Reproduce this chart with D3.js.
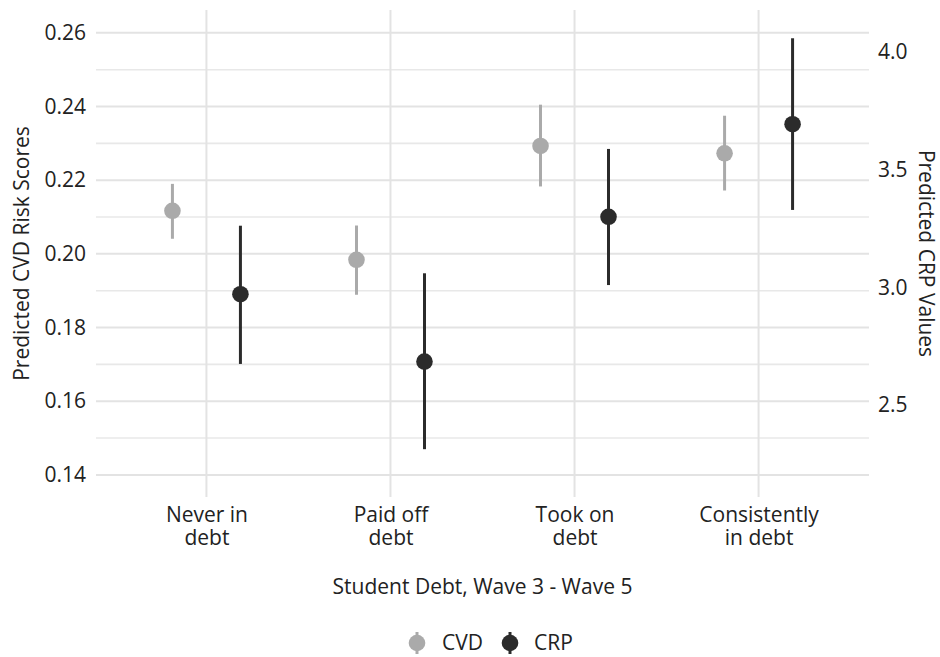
<!DOCTYPE html>
<html>
<head>
<meta charset="utf-8">
<script src="https://cdn.jsdelivr.net/npm/d3@7"></script>
<style>
  html, body { margin: 0; padding: 0; background: #fff; }
  svg { display: block; }
  text { font-family: "Open Sans", "Noto Sans", sans-serif; fill: #222; }
</style>
</head>
<body>
<svg id="chart" width="940" height="657"></svg>
<script>
// ---- data ----
const categories = ["Never in\ndebt", "Paid off\ndebt", "Took on\ndebt", "Consistently\nin debt"];
const cvdEstimate = [0.2117, 0.1984, 0.2293, 0.2273];
const cvdLower    = [0.2041, 0.1889, 0.2183, 0.2172];
const cvdUpper    = [0.2190, 0.2077, 0.2405, 0.2375];
const crpEstimate = [2.971, 2.685, 3.300, 3.693];
const crpLower    = [2.675, 2.313, 3.010, 3.329];
const crpUpper    = [3.262, 3.060, 3.588, 4.058];
const leftTicks   = [0.14, 0.16, 0.18, 0.20, 0.22, 0.24, 0.26];
const leftMinor   = [0.15, 0.17, 0.19, 0.21, 0.23, 0.25];
const rightTicks  = [2.5, 3.0, 3.5, 4.0];
const seriesNames = ["CVD", "CRP"];

// ---- layout ----
const W = 940, H = 657;
const panel = { left: 96, right: 869, top: 10, bottom: 497 };
const colors = { CVD: "#aaaaaa", CRP: "#2b2b2b" };
const dodge = 34;
const fontSize = 21;

const svg = d3.select("#chart");

const x = d3.scalePoint().domain(categories).range([panel.left, panel.right]).padding(0.6);
const yL = d3.scaleLinear().domain([0.134, 0.2662]).range([panel.bottom, panel.top]);
const yR = d3.scaleLinear().domain([2.110, 4.178]).range([panel.bottom, panel.top]);

// gridlines
const grid = svg.append("g");
grid.selectAll("line.minor").data(leftMinor).join("line")
  .attr("x1", panel.left).attr("x2", panel.right)
  .attr("y1", d => yL(d)).attr("y2", d => yL(d))
  .attr("stroke", "#e8e8e8").attr("stroke-width", 1.6);
grid.selectAll("line.major").data(leftTicks).join("line")
  .attr("x1", panel.left).attr("x2", panel.right)
  .attr("y1", d => yL(d)).attr("y2", d => yL(d))
  .attr("stroke", "#e3e3e3").attr("stroke-width", 2);
grid.selectAll("line.vert").data(categories).join("line")
  .attr("x1", d => x(d)).attr("x2", d => x(d))
  .attr("y1", panel.top).attr("y2", panel.bottom)
  .attr("stroke", "#e3e3e3").attr("stroke-width", 2);

// left axis
const leftAxis = d3.axisLeft(yL).tickValues(leftTicks).tickSize(0).tickPadding(10)
  .tickFormat(d3.format(".2f"));
const gL = svg.append("g").attr("transform", `translate(${panel.left},0)`).call(leftAxis);
gL.select(".domain").remove();
gL.selectAll("text").attr("font-size", fontSize).style("font-family", "'Open Sans', sans-serif").attr("fill", "#222");

// right axis
const rightAxis = d3.axisRight(yR).tickValues(rightTicks).tickSize(0).tickPadding(9)
  .tickFormat(d3.format(".1f"));
const gR = svg.append("g").attr("transform", `translate(${panel.right},0)`).call(rightAxis);
gR.select(".domain").remove();
gR.selectAll("text").attr("font-size", fontSize).style("font-family", "'Open Sans', sans-serif").attr("fill", "#222");

// x axis labels (two lines)
const xAxis = d3.axisBottom(x).tickSize(0).tickPadding(0);
const gX = svg.append("g").attr("transform", `translate(0,${panel.bottom})`).call(xAxis);
gX.select(".domain").remove();
gX.selectAll(".tick text").remove();
gX.selectAll(".tick line").remove();
gX.selectAll(".tick").each(function(d) {
  const t = d3.select(this).append("text")
    .attr("text-anchor", "middle").attr("font-size", fontSize).attr("fill", "#222")
    .style("font-family", "'Open Sans', sans-serif");
  d.split("\n").forEach((line, i) => {
    t.append("tspan").attr("x", 0).attr("y", 25 + i * 23).text(line);
  });
});

// series
const series = [
  { name: "CVD", est: cvdEstimate, lo: cvdLower, hi: cvdUpper, scale: yL, off: -dodge },
  { name: "CRP", est: crpEstimate, lo: crpLower, hi: crpUpper, scale: yR, off: dodge }
];
series.forEach(s => {
  const g = svg.append("g");
  categories.forEach((c, i) => {
    const cx = x(c) + s.off;
    g.append("line")
      .attr("x1", cx).attr("x2", cx)
      .attr("y1", s.scale(s.lo[i])).attr("y2", s.scale(s.hi[i]))
      .attr("stroke", colors[s.name]).attr("stroke-width", 3);
    g.append("circle")
      .attr("cx", cx).attr("cy", s.scale(s.est[i])).attr("r", 8.3)
      .attr("fill", colors[s.name]);
  });
});

// axis titles
svg.append("text")
  .attr("transform", `translate(29,${(panel.top + panel.bottom) / 2}) rotate(-90)`)
  .attr("text-anchor", "middle").attr("font-size", fontSize).text("Predicted CVD Risk Scores");
svg.append("text")
  .attr("transform", `translate(919,${(panel.top + panel.bottom) / 2}) rotate(90)`)
  .attr("text-anchor", "middle").attr("font-size", fontSize).text("Predicted CRP Values");
svg.append("text")
  .attr("x", (panel.left + panel.right) / 2).attr("y", 594)
  .attr("text-anchor", "middle").attr("font-size", fontSize).text("Student Debt, Wave 3 - Wave 5");

// legend
const legendY = 643;
const legendItems = [
  { name: "CVD", kx: 417, tx: 442 },
  { name: "CRP", kx: 510, tx: 534 }
];
const lg = svg.append("g");
legendItems.forEach(it => {
  lg.append("line").attr("x1", it.kx).attr("x2", it.kx)
    .attr("y1", legendY - 11).attr("y2", legendY + 11)
    .attr("stroke", colors[it.name]).attr("stroke-width", 3);
  lg.append("circle").attr("cx", it.kx).attr("cy", legendY).attr("r", 8.3).attr("fill", colors[it.name]);
  lg.append("text").attr("x", it.tx).attr("y", legendY).attr("dy", "0.35em")
    .attr("font-size", fontSize).text(it.name);
});
</script>
</body>
</html>
